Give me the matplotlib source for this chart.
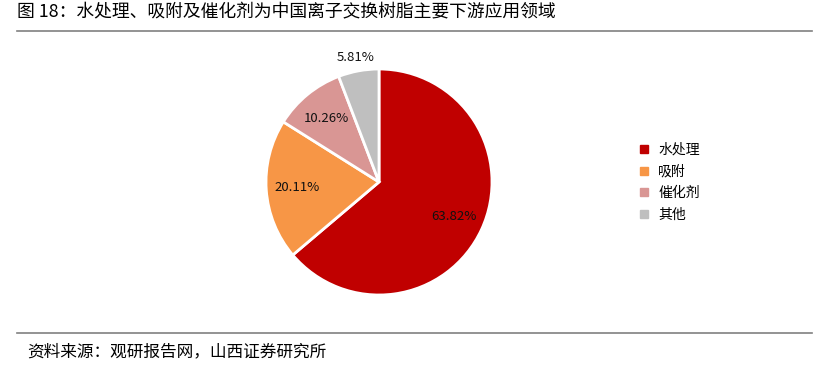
import numpy as np
import matplotlib.pyplot as plt
from matplotlib.lines import Line2D

plt.rcParams['font.family'] = ['Noto Sans CJK SC', 'DejaVu Sans']

labels = ['水处理', '吸附', '催化剂', '其他']
shares = [63.82, 20.11, 10.26, 5.81]
colors = ['#C00000', '#F79646', '#D99694', '#BFBFBF']
title = '图 18：水处理、吸附及催化剂为中国离子交换树脂主要下游应用领域'
source = '资料来源：观研报告网，山西证券研究所'

W, H = 829, 378
fig = plt.figure(figsize=(W / 100, H / 100), dpi=100)

# pie axes: center (379,182) px, radius ~113 px
cx, cy, r = 379, 182, 113
half = 125
ax = fig.add_axes([(cx - half) / W, (H - cy - half) / H, 2 * half / W, 2 * half / H])
wedges, _ = ax.pie(shares, colors=colors, startangle=90, counterclock=False,
                   radius=1, wedgeprops=dict(edgecolor='white', linewidth=2))
lim = half / r
ax.set_xlim(-lim, lim)
ax.set_ylim(-lim, lim)
ax.set_aspect('equal')
ax.axis('off')

# percentage labels, the small slice sits outside
dists = [0.73, 0.73, 0.73, 1.12]
for w, v, d in zip(wedges, shares, dists):
    ang = np.deg2rad((w.theta1 + w.theta2) / 2)
    ax.text(d * np.cos(ang), d * np.sin(ang), f'{v:.2f}%', ha='center', va='center',
            fontsize=9.5, color='#111111')

# legend
handles = [Line2D([], [], marker='s', linestyle='none', markersize=6,
                  markerfacecolor=c, markeredgecolor=c) for c in colors]
fig.legend(handles, labels, loc='upper left', bbox_to_anchor=(632 / W, 1 - 136 / H),
           frameon=False, fontsize=10, handlelength=0.8, handletextpad=0.6,
           labelspacing=0.55, borderpad=0)

# title, rules, source
fig.text(17 / W, 1 - 12 / H, title, ha='left', va='center', fontsize=12.8)
fig.add_artist(Line2D([17 / W, 812 / W], [1 - 31 / H, 1 - 31 / H], color='#808080', linewidth=1.2))
fig.add_artist(Line2D([17 / W, 812 / W], [1 - 333 / H, 1 - 333 / H], color='#808080', linewidth=1.2))
fig.text(27 / W, 1 - 352 / H, source, ha='left', va='center', fontsize=12)

fig.savefig('out.png', dpi=100)
